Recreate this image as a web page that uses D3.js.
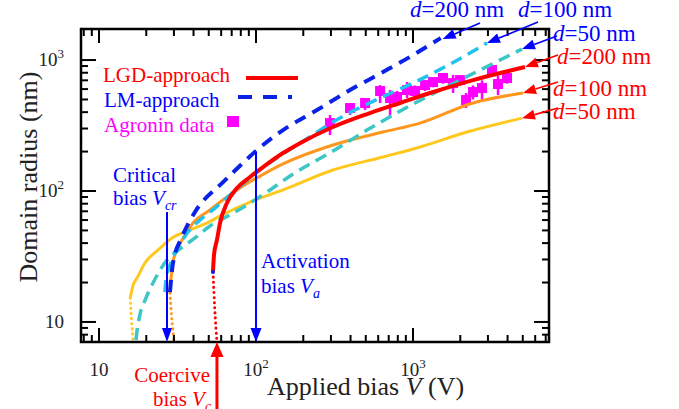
<!DOCTYPE html>
<html><head><meta charset="utf-8">
<script src="https://cdn.jsdelivr.net/npm/d3@7"></script>
<style>
body{margin:0;background:#fff}
svg{display:block}
text{font-family:"Liberation Serif","Times New Roman",serif}
</style>
</head><body>
<svg id="c" width="679" height="409"></svg>
<script>
// ---------- DATA ----------
// LGD-approach (solid) : applied bias V (V), domain radius r (nm)
const lgd50V   = [15.8, 16.5, 17.5, 19.6, 23.8, 29.2, 36.4, 47.3, 60.7, 91.6, 148.6, 309, 644, 1109, 2209, 4943];
const lgd50R   = [15.2, 19.1, 21.7, 28.2, 35.5, 43.8, 49.5, 56, 65.6, 82.4, 101.9, 144.6, 181.9, 216.8, 282, 360];
const lgd50DotV = [15.8, 16.1, 16.5];
const lgd50DotR = [15.2, 10.5, 7.03];

const lgd100V  = [28.3, 28.7, 29.6, 31.4, 33.8, 39.7, 50.9, 65.3, 82.6, 106, 148.6, 309, 644, 1109, 2410, 5020];
const lgd100R  = [16.6, 20.9, 28.7, 35.5, 42.3, 57, 71.6, 89.9, 109, 130, 161, 224.5, 282, 330, 470, 560];
const lgd100DotV = [28.3, 29.0, 30.1];
const lgd100DotR = [16.6, 11, 7.03];

const lgd200V  = [53.2, 54, 56.4, 59, 65.3, 75.7, 91.6, 110.9, 148.6, 190.5, 309, 509, 826, 1282, 2410, 5164];
const lgd200R  = [24.1, 32.4, 42.3, 57, 80.9, 105.4, 128, 152.4, 195, 232, 308, 387, 470, 560, 703, 885];
const lgd200DotV = [53.2, 54.5, 56.4];
const lgd200DotR = [24.1, 13, 7.03];

// LM-approach (dashed)
const lm50V  = [17.2, 17.5, 18.2, 19.9, 22.1, 24.5, 27.5, 32.8, 40.9, 50.9, 68.2, 91.6, 122.8, 164.8, 309, 509, 1059, 1993, 3581, 4943];
const lm50R  = [7.29, 8.69, 11.3, 15.2, 19.9, 24.9, 30.3, 36.1, 43.8, 54.1, 65.6, 80.9, 101.9, 130.3, 201.8, 292, 478, 703, 1000, 1213];
const lm100V = [26.3, 26.7, 28.3, 31.4, 36.9, 44.0, 54.8, 68.2, 101.5, 190.5, 369, 617, 1030, 1722, 2958];
const lm100R = [16.9, 20.9, 27.2, 35.5, 48.6, 60.1, 74.1, 93.1, 139.6, 232, 380, 513, 679, 931, 1349];
const lm200V = [28.3, 29.6, 33.8, 40.9, 61.7, 82.6, 101.5, 148.6, 244.7, 397, 644, 1000, 1500];
const lm200R = [16.9, 28.2, 44.6, 69.2, 117, 163.6, 205.6, 292, 415, 590, 810, 1091, 1472];

// Agronin data with error bars
const agV   = [296, 397, 495, 617, 714, 791, 916, 1030, 1193, 1341, 1552, 1799, 1993, 2176, 2411, 2750, 3184, 3477, 3969];
const agR   = [330, 430, 470, 580, 513, 522, 590, 580, 644, 679, 729, 667, 703, 495, 570, 611, 839, 656, 729];
const agLo  = [267, 380, 415, 470, 367, 470, 513, 520, 580, 620, 660, 560, 640, 430, 500, 500, 760, 540, 660];
const agHi  = [380, 470, 513, 644, 590, 580, 680, 640, 700, 730, 790, 770, 760, 560, 640, 700, 900, 760, 800];

// characteristic biases (V)
const Vcr = 27.1, Va = 100, Vc = 56.4;

// axis ticks
const xMajor = [10, 100, 1000];
const yMajor = [10, 100, 1000];
const majorExp = ["", "2", "3"];

// ---------- DRAW ----------
const svg = d3.select("#c");
const L = 81, R = 549, T = 29, B = 342;
const x = d3.scaleLog().domain([7.68, 7345]).range([L, R]);
const y = d3.scaleLog().domain([7.03, 1726]).range([B, T]);

const BLUE = "#0a22e8", CYAN = "#22c2ee", TEAL = "#3cc6c6";
const RED = "#ff0000", ORANGE = "#ff961e", YELLOW = "#ffc81e", MAG = "#ff00ff";
const TBLUE = "#0000ff";

svg.append("clipPath").attr("id", "clip").append("rect")
  .attr("x", L).attr("y", T).attr("width", R - L).attr("height", B - T);

const zip = (a, b) => a.map((v, i) => [v, b[i]]);
const line = d3.line().x(d => x(d[0])).y(d => y(d[1])).curve(d3.curveMonotoneX);
const plot = svg.append("g").attr("clip-path", "url(#clip)");

// Agronin data
const ag = plot.append("g");
agV.forEach((v, i) => {
  ag.append("line").attr("x1", x(v)).attr("x2", x(v)).attr("y1", y(agLo[i])).attr("y2", y(agHi[i]))
    .attr("stroke", MAG).attr("stroke-width", 2.5);
  ag.append("rect").attr("x", x(v) - 5).attr("y", y(agR[i]) - 5).attr("width", 10).attr("height", 10)
    .attr("fill", MAG);
});

function curve(V, Rr, color, w, dash) {
  const p = plot.append("path").attr("d", line(zip(V, Rr))).attr("fill", "none")
    .attr("stroke", color).attr("stroke-width", w);
  if (dash) p.attr("stroke-dasharray", dash);
  return p;
}
function dotted(V, Rr, color) {
  plot.append("path").attr("d", line(zip(V, Rr))).attr("fill", "none")
    .attr("stroke", color).attr("stroke-width", 3).attr("stroke-linecap", "round")
    .attr("stroke-dasharray", "0.1,5");
}

dotted(lgd50DotV, lgd50DotR, YELLOW);
dotted(lgd100DotV, lgd100DotR, ORANGE);
dotted(lgd200DotV, lgd200DotR, RED);

curve(lgd50V, lgd50R, YELLOW, 3);
curve(lgd100V, lgd100R, ORANGE, 3);
curve(lm50V, lm50R, TEAL, 3.5, "12,7");
curve(lm100V, lm100R, CYAN, 3.5, "12,7");
curve(lgd200V, lgd200R, RED, 4);
curve(lm200V, lm200R, BLUE, 4, "12,8");
plot.append("circle").attr("cx", x(lgd200V[0])).attr("cy", y(lgd200R[0])).attr("r", 2).attr("fill", BLUE);

// frame and ticks
const ax = svg.append("g");
const xt = x.ticks().filter(t => t > 7.68 && t < 7345);
const yt = y.ticks().filter(t => t > 7.03 && t < 1726);
const isMaj = t => Math.abs(Math.log10(t) - Math.round(Math.log10(t))) < 1e-9;
xt.forEach(t => {
  const len = isMaj(t) ? 14 : 7, px = x(t);
  ax.append("line").attr("x1", px).attr("x2", px).attr("y1", B).attr("y2", B - len).attr("stroke", "#000").attr("stroke-width", 2);
  ax.append("line").attr("x1", px).attr("x2", px).attr("y1", T).attr("y2", T + len).attr("stroke", "#000").attr("stroke-width", 2);
});
yt.forEach(t => {
  const len = isMaj(t) ? 15 : 7, py = y(t);
  ax.append("line").attr("x1", L).attr("x2", L + len).attr("y1", py).attr("y2", py).attr("stroke", "#000").attr("stroke-width", 2);
  ax.append("line").attr("x1", R).attr("x2", R - len).attr("y1", py).attr("y2", py).attr("stroke", "#000").attr("stroke-width", 2);
});
ax.append("rect").attr("x", L).attr("y", T).attr("width", R - L).attr("height", B - T)
  .attr("fill", "none").attr("stroke", "#000").attr("stroke-width", 2.5);

// tick labels
function powLabel(g, t, i, px, py, anchor) {
  const tx = g.append("text").attr("x", px).attr("y", py).attr("text-anchor", anchor)
    .attr("font-size", 19).attr("fill", "#222");
  tx.append("tspan").text("10");
  if (majorExp[i]) tx.append("tspan").attr("font-size", 13).attr("dy", -8).text(majorExp[i]);
}
xMajor.forEach((t, i) => powLabel(svg, t, i, x(t), 376, "middle"));
yMajor.forEach((t, i) => powLabel(svg, t, i, 64, y(t) + 6, "end"));

// axis titles
svg.append("text").attr("transform", "translate(37,177) rotate(-90)").attr("text-anchor", "middle")
  .attr("font-size", 26).attr("fill", "#222").text("Domain radius (nm)");
const xtitle = svg.append("text").attr("x", 267).attr("y", 395).attr("font-size", 26).attr("fill", "#222");
xtitle.append("tspan").text("Applied bias ");
xtitle.append("tspan").attr("font-style", "italic").text("V");
xtitle.append("tspan").text(" (V)");

// legend
svg.append("text").attr("x", 103).attr("y", 82).attr("font-size", 21).attr("fill", RED).text("LGD-approach");
svg.append("text").attr("x", 104).attr("y", 107).attr("font-size", 21).attr("fill", TBLUE).text("LM-approach");
svg.append("text").attr("x", 104).attr("y", 132).attr("font-size", 21).attr("fill", MAG).text("Agronin data");
svg.append("line").attr("x1", 246).attr("x2", 298).attr("y1", 78).attr("y2", 78).attr("stroke", RED).attr("stroke-width", 4);
svg.append("line").attr("x1", 238).attr("x2", 292).attr("y1", 97).attr("y2", 97).attr("stroke", BLUE).attr("stroke-width", 4).attr("stroke-dasharray", "14,11");
svg.append("rect").attr("x", 227).attr("y", 116).attr("width", 12).attr("height", 11).attr("fill", MAG);

// arrows
function arrow(x1, y1, x2, y2, color, w, hl, hw) {
  const a = Math.atan2(y2 - y1, x2 - x1);
  const bx = x2 - hl * Math.cos(a), by = y2 - hl * Math.sin(a);
  svg.append("line").attr("x1", x1).attr("y1", y1).attr("x2", bx).attr("y2", by)
    .attr("stroke", color).attr("stroke-width", w);
  const px = -Math.sin(a) * hw, py = Math.cos(a) * hw;
  svg.append("polygon").attr("points", `${x2},${y2} ${bx + px},${by + py} ${bx - px},${by - py}`).attr("fill", color);
}
arrow(x(Vcr), 212, x(Vcr), B, TBLUE, 2, 14, 5);
arrow(x(Va), y(lm200R[6]) + 2, x(Va), B, TBLUE, 2, 14, 5.5);
arrow(x(Vc), 409, x(Vc), B, RED, 3, 15, 6.5);

// bias annotations
function biasText(xp, yp, sub, color, anchor) {
  const t = svg.append("text").attr("x", xp).attr("y", yp).attr("font-size", 21).attr("fill", color);
  if (anchor) t.attr("text-anchor", anchor);
  t.append("tspan").text("bias ");
  t.append("tspan").attr("font-style", "italic").text("V");
  t.append("tspan").attr("font-style", "italic").attr("font-size", 14).attr("dy", 5).text(sub);
}
svg.append("text").attr("x", 113).attr("y", 182).attr("font-size", 21).attr("fill", TBLUE).text("Critical");
biasText(113, 205, "cr", TBLUE);
svg.append("text").attr("x", 261).attr("y", 268).attr("font-size", 21).attr("fill", TBLUE).text("Activation");
biasText(261, 293, "a", TBLUE);
svg.append("text").attr("x", 210).attr("y", 382).attr("font-size", 21).attr("fill", RED).attr("text-anchor", "end").text("Coercive");
biasText(153, 406, "c", RED);

// d labels with arrows to curve ends
function dLabel(xp, yp, val, color) {
  const t = svg.append("text").attr("x", xp).attr("y", yp).attr("font-size", 23).attr("fill", color);
  t.append("tspan").attr("font-style", "italic").text("d");
  t.append("tspan").text("=" + val + " nm");
}
const endPt = (V, Rr) => [x(V[V.length - 1]), y(Rr[Rr.length - 1])];
let e;
dLabel(410, 17, 200, TBLUE); e = endPt(lm200V, lm200R); arrow(480, 23, e[0] + 2, e[1] + 1, TBLUE, 1.6, 13, 5);
dLabel(518, 17, 100, TBLUE); e = endPt(lm100V, lm100R); arrow(538, 22, e[0], e[1], TBLUE, 1.6, 13, 5);
dLabel(553, 41, 50, TBLUE);  e = endPt(lm50V, lm50R);   arrow(557, 36, e[0], e[1], TBLUE, 1.6, 13, 5);
dLabel(557, 64, 200, RED);   e = endPt(lgd200V, lgd200R); arrow(558, 55, e[0], e[1], RED, 1.6, 13, 5);
dLabel(553, 96, 100, RED);   e = endPt(lgd100V, lgd100R); arrow(558, 82, e[0], e[1], RED, 1.6, 13, 5);
dLabel(553, 119, 50, RED);   e = endPt(lgd50V, lgd50R);   arrow(558, 108, e[0], e[1], RED, 1.6, 13, 5);
</script>
</body></html>
